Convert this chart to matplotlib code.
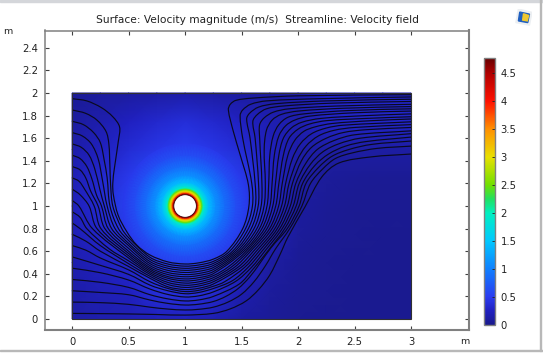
#!/usr/bin/env python3

import numpy as np
import matplotlib
matplotlib.use('Agg')
import matplotlib.pyplot as plt

from matplotlib.colors import LinearSegmentedColormap
from matplotlib.patches import Circle, PathPatch, Rectangle, Polygon
from matplotlib.path import Path

# speed (m/s) on a coarse grid, bottom row first
grid_x = [0, 0.25, 0.5, 0.75, 1, 1.25, 1.5, 1.75, 2, 2.25, 2.5, 2.75, 3]
grid_y = [0, 0.25, 0.5, 0.75, 1, 1.25, 1.5, 1.75, 2]
speed_00 = [.12, .16, .18, .22, .25, .18, .10, .06, .03, .02, .02, .02, .02]
speed_25 = [.14, .20, .25, .40, .42, .35, .18, .08, .04, .03, .02, .02, .02]
speed_50 = [.16, .24, .32, .50, .55, .48, .30, .12, .05, .03, .02, .02, .02]
speed_75 = [.20, .30, .48, .70, .80, .70, .48, .22, .07, .04, .03, .02, .02]
speed_100 = [.22, .35, .55, .80, .90, .80, .55, .30, .10, .05, .03, .03, .03]
speed_125 = [.20, .32, .48, .70, .80, .70, .48, .28, .12, .07, .05, .04, .04]
speed_150 = [.14, .24, .36, .45, .52, .45, .36, .24, .14, .12, .12, .12, .12]
speed_175 = [.10, .16, .26, .32, .38, .32, .26, .18, .16, .28, .30, .30, .30]
speed_200 = [.05, .08, .10, .12, .14, .12, .10, .10, .16, .28, .30, .30, .30]

# speed against distance from the cylinder centre
ring_radius = [.1, .105, .11, .12, .13, .145, .16, .18, .21, .27, .35, .45, .55]
ring_speed = [4.77, 4.5, 4.2, 3.5, 3.0, 2.5, 2.0, 1.7, 1.4, 1.1, .85, .62, .48]

# streamlines, top left start first
line_00 = [(0, 1.95), (.13, 1.93), (.26, 1.87), (.36, 1.79), (.42, 1.70), (.41, 1.58), (.375, 1.34), (.36, 1.2),
           (.365, 1.1), (.407, .92), (.484, .773), (.572, .655), (.69, .566), (.85, .505), (1, .487), (1.12, .497),
           (1.25, .53), (1.37, .6), (1.51, .8), (1.565, 1.0), (1.56, 1.19), (1.487, 1.454), (1.427, 1.66),
           (1.383, 1.85), (1.40, 1.90), (1.45, 1.935), (1.6, 1.955), (2, 1.975), (3, 1.985)]
line_01 = [(0, 1.85), (.12, 1.82), (.22, 1.76), (.30, 1.66), (.325, 1.55), (.335, 1.34), (.34, 1.2), (.36, 1.0),
           (.44, .8), (.5, .72), (.69, .546), (.85, .486), (1, .468), (1.12, .478), (1.25, .51), (1.395, .6),
           (1.535, .8), (1.596, 1.0), (1.59, 1.2), (1.51, 1.6), (1.487, 1.8), (1.51, 1.85), (1.58, 1.9), (1.72, 1.93),
           (2.2, 1.95), (3, 1.965)]
line_02 = [(0, 1.75), (.1, 1.72), (.19, 1.65), (.25, 1.56), (.285, 1.4), (.31, 1.25), (.335, 1.0), (.41, .8),
           (.5, .695), (.69, .527), (.85, .467), (1, .449), (1.12, .459), (1.25, .492), (1.42, .6), (1.56, .8),
           (1.622, 1.0), (1.62, 1.2), (1.575, 1.6), (1.545, 1.77), (1.57, 1.82), (1.65, 1.875), (1.8, 1.905),
           (2.25, 1.93), (3, 1.945)]
line_03 = [(0, 1.65), (.09, 1.62), (.17, 1.55), (.23, 1.42), (.27, 1.22), (.31, 1.0), (.38, .8), (.5, .67),
           (.69, .508), (.85, .449), (1, .431), (1.12, .441), (1.25, .474), (1.44, .6), (1.585, .8), (1.647, 1.0),
           (1.65, 1.2), (1.62, 1.6), (1.60, 1.75), (1.64, 1.81), (1.72, 1.86), (1.87, 1.885), (2.3, 1.91), (3, 1.925)]
line_04 = [(0, 1.55), (.08, 1.52), (.15, 1.45), (.20, 1.33), (.245, 1.15), (.285, 1.0), (.35, .8), (.5, .65),
           (.69, .49), (.85, .43), (1, .412), (1.12, .422), (1.25, .456), (1.46, .6), (1.61, .8), (1.673, 1.0),
           (1.68, 1.2), (1.66, 1.6), (1.66, 1.72), (1.70, 1.78), (1.78, 1.83), (1.92, 1.86), (2.35, 1.885), (3, 1.90)]
line_05 = [(0, 1.45), (.07, 1.42), (.13, 1.35), (.175, 1.24), (.215, 1.1), (.26, 1.0), (.32, .8), (.5, .625),
           (.69, .472), (.85, .411), (1, .393), (1.12, .403), (1.25, .438), (1.48, .6), (1.635, .8), (1.699, 1.0),
           (1.71, 1.2), (1.70, 1.5), (1.72, 1.67), (1.77, 1.76), (1.85, 1.81), (2.0, 1.84), (2.4, 1.865), (3, 1.88)]
line_06 = [(0, 1.35), (.07, 1.32), (.12, 1.25), (.165, 1.13), (.23, 1.0), (.29, .8), (.5, .60), (.69, .455),
           (.85, .393), (1, .374), (1.12, .385), (1.25, .42), (1.50, .6), (1.658, .8), (1.725, 1.0), (1.74, 1.2),
           (1.75, 1.45), (1.78, 1.62), (1.83, 1.72), (1.91, 1.785), (2.05, 1.815), (2.45, 1.845), (3, 1.86)]
line_07 = [(0, 1.25), (.06, 1.22), (.11, 1.15), (.195, 1.0), (.255, .8), (.5, .58), (.69, .44), (.85, .375),
           (1, .355), (1.12, .366), (1.25, .402), (1.52, .6), (1.68, .8), (1.751, 1.0), (1.77, 1.2), (1.79, 1.45),
           (1.83, 1.62), (1.89, 1.71), (1.97, 1.76), (2.1, 1.795), (2.5, 1.825), (3, 1.84)]
line_08 = [(0, 1.15), (.07, 1.10), (.15, 1.0), (.22, .8), (.5, .56), (.69, .425), (.85, .36), (1, .337), (1.12, .348),
           (1.25, .384), (1.38, .46), (1.54, .6), (1.703, .8), (1.776, 1.0), (1.80, 1.2), (1.83, 1.45), (1.87, 1.6),
           (1.94, 1.69), (2.03, 1.74), (2.2, 1.775), (2.6, 1.80), (3, 1.815)]
line_09 = [(0, 1.05), (.06, 1.0), (.18, .8), (.5, .54), (.69, .41), (.85, .342), (1, .318), (1.12, .329),
           (1.25, .366), (1.41, .46), (1.56, .6), (1.725, .8), (1.802, 1.0), (1.83, 1.2), (1.87, 1.45), (1.92, 1.6),
           (2.0, 1.68), (2.1, 1.725), (2.25, 1.755), (2.6, 1.775), (3, 1.79)]
line_10 = [(0, .95), (.07, .90), (.13, .8), (.33, .62), (.5, .515), (.69, .395), (.85, .323), (1, .299), (1.12, .31),
           (1.25, .348), (1.44, .46), (1.58, .6), (1.748, .8), (1.828, 1.0), (1.86, 1.2), (1.91, 1.45), (1.97, 1.58),
           (2.05, 1.66), (2.15, 1.70), (2.3, 1.73), (2.65, 1.755), (3, 1.77)]
line_11 = [(0, .85), (.07, .8), (.25, .65), (.5, .49), (.69, .378), (.85, .305), (1, .28), (1.12, .292), (1.25, .33),
           (1.47, .46), (1.605, .6), (1.77, .8), (1.854, 1.0), (1.89, 1.2), (1.95, 1.42), (2.02, 1.55), (2.12, 1.64),
           (2.25, 1.69), (2.4, 1.715), (3, 1.745)]
line_12 = [(0, .75), (.12, .69), (.25, .60), (.5, .465), (.69, .36), (.85, .285), (1, .261), (1.12, .272), (1.25, .31),
           (1.50, .46), (1.63, .6), (1.794, .8), (1.88, 1.0), (1.92, 1.2), (1.99, 1.4), (2.07, 1.53), (2.18, 1.62),
           (2.32, 1.67), (2.5, 1.695), (3, 1.72)]
line_13 = [(0, .65), (.12, .61), (.25, .54), (.5, .435), (.69, .33), (.85, .27), (1, .243), (1.12, .254), (1.25, .29),
           (1.35, .33), (1.53, .46), (1.655, .6), (1.816, .8), (1.905, 1.0), (1.95, 1.2), (2.03, 1.4), (2.12, 1.52),
           (2.25, 1.60), (2.4, 1.65), (2.6, 1.675), (3, 1.695)]
line_14 = [(0, .55), (.25, .475), (.5, .395), (.69, .30), (.85, .25), (1, .224), (1.12, .235), (1.25, .27), (1.42, .34),
           (1.56, .46), (1.68, .6), (1.838, .8), (1.931, 1.0), (1.98, 1.2), (2.07, 1.38), (2.17, 1.50), (2.32, 1.58),
           (2.5, 1.63), (3, 1.665)]
line_15 = [(0, .45), (.25, .41), (.5, .345), (.69, .265), (.85, .217), (1, .195), (1.12, .205), (1.25, .24), (1.45, .335),
           (1.59, .46), (1.705, .6), (1.86, .8), (1.957, 1.0), (2.01, 1.2), (2.11, 1.37), (2.22, 1.48), (2.36, 1.55),
           (2.55, 1.60), (3, 1.64)]
line_16 = [(0, .35), (.25, .325), (.5, .28), (.69, .215), (.85, .178), (1, .16), (1.12, .169), (1.25, .20), (1.48, .31),
           (1.60, .44), (1.73, .6), (1.882, .8), (1.983, 1.0), (2.04, 1.2), (2.15, 1.36), (2.27, 1.46), (2.42, 1.53),
           (2.6, 1.57), (3, 1.61)]
line_17 = [(0, .25), (.25, .235), (.5, .215), (.69, .168), (.85, .138), (1, .124), (1.12, .131), (1.25, .155),
           (1.36, .2), (1.47, .27), (1.57, .37), (1.66, .49), (1.76, .63), (1.904, .8), (2.009, 1.0), (2.07, 1.2),
           (2.18, 1.34), (2.3, 1.44), (2.45, 1.50), (2.65, 1.545), (3, 1.575)]
line_18 = [(0, .15), (.25, .145), (.5, .13), (.69, .105), (.85, .088), (1, .08), (1.12, .086), (1.25, .105), (1.38, .15),
           (1.50, .22), (1.61, .33), (1.71, .47), (1.80, .62), (1.926, .8), (2.034, 1.0), (2.11, 1.2), (2.22, 1.33),
           (2.33, 1.42), (2.48, 1.47), (2.7, 1.51), (3, 1.53)]
line_19 = [(0, .05), (.25, .048), (.5, .045), (.75, .04), (1, .035), (1.25, .05), (1.40, .09), (1.54, .16), (1.65, .26),
           (1.75, .39), (1.84, .57), (1.91, .725), (2.06, .99), (2.21, 1.257), (2.36, 1.38), (2.65, 1.435), (3, 1.46)]

x_ticks = [0, 0.5, 1, 1.5, 2, 2.5, 3]
x_tick_labels = ['0', '0.5', '1', '1.5', '2', '2.5', '3']
y_ticks = [0, 0.2, 0.4, 0.6, 0.8, 1, 1.2, 1.4, 1.6, 1.8, 2, 2.2, 2.4]
y_tick_labels = ['0', '0.2', '0.4', '0.6', '0.8', '1', '1.2', '1.4', '1.6', '1.8', '2', '2.2', '2.4']
bar_ticks = [0, 0.5, 1, 1.5, 2, 2.5, 3, 3.5, 4, 4.5]
bar_tick_labels = ['0', '0.5', '1', '1.5', '2', '2.5', '3', '3.5', '4', '4.5']

speed_max = 4.77
# colour stops along the bar, speed and colour as read
stop_speed = [0, 0.25, 0.5, 1, 1.5, 2, 2.25, 2.5, 3, 3.5, 4, 4.5, 4.77]
stop_color = ['#1a1a8c', '#2020c0', '#2a3cf0', '#0f80ff', '#00c8ff', '#00f0c0', '#20e060', '#70e000',
              '#e8e000', '#ff9000', '#ff1000', '#b00000', '#660000']


def smooth_path(points):
    '''bezier pieces passing through the read points'''
    pts = np.array(points, dtype=float)
    gaps = np.hypot(*np.diff(pts, axis=0).T)
    tangents = np.zeros_like(pts)
    tangents[0] = (pts[1] - pts[0]) / gaps[0]
    tangents[-1] = (pts[-1] - pts[-2]) / gaps[-1]
    for i in range(1, len(pts) - 1):
        tangents[i] = (pts[i + 1] - pts[i - 1]) / (gaps[i - 1] + gaps[i])

    verts = [pts[0]]
    codes = [Path.MOVETO]
    for i, gap in enumerate(gaps):
        verts += [pts[i] + tangents[i] * gap / 3, pts[i + 1] - tangents[i + 1] * gap / 3, pts[i + 1]]
        codes += [Path.CURVE4] * 3
    return Path(verts, codes)


W, H = 543, 354
fig = plt.figure(figsize=(W / 100, H / 100), dpi=100)
plt.rcParams['font.family'] = 'DejaVu Sans'

text_color = '#222222'
frame_color = '#808080'


def fig_box(left, top, right, bottom):
    # pixel box measured from the top left corner
    return [left / W, 1 - bottom / H, (right - left) / W, (bottom - top) / H]


# the window borders of the screenshot
fig.add_artist(Rectangle((0, H - 2), W, 2, transform=None, color='#d4d6da'))
fig.add_artist(Rectangle((0, 3), W, 1, transform=None, color='#b8b8b8'))
fig.add_artist(Rectangle((540, 3), 1, H, transform=None, color='#b8b8b8'))

ax = fig.add_axes(fig_box(45, 30.5, 469, 330))

colors = [(s / speed_max, c) for s, c in zip(stop_speed, stop_color)]
cmap = LinearSegmentedColormap.from_list('comsol_rainbow', colors, N=512)

speed = np.array([speed_00, speed_25, speed_50, speed_75, speed_100, speed_125, speed_150, speed_175, speed_200])
mesh = ax.pcolormesh(grid_x, grid_y, speed, cmap=cmap, vmin=0, vmax=speed_max, shading='gouraud', zorder=1)

theta = np.linspace(0, 2 * np.pi, 121)
rr, tt = np.meshgrid(ring_radius, theta)
ring = np.tile(ring_speed, (len(theta), 1))
ax.pcolormesh(1 + rr * np.cos(tt), 1 + rr * np.sin(tt), ring, cmap=cmap, vmin=0, vmax=speed_max,
              shading='gouraud', zorder=2)

ax.add_patch(Circle((1, 1), 0.1, facecolor='white', edgecolor='#400000', linewidth=0.6, zorder=4))

lines = [line_00, line_01, line_02, line_03, line_04, line_05, line_06, line_07, line_08, line_09,
         line_10, line_11, line_12, line_13, line_14, line_15, line_16, line_17, line_18, line_19]
for points in lines:
    ax.add_patch(PathPatch(smooth_path(points), facecolor='none', edgecolor='#0a0a20', linewidth=0.85, zorder=3))

ax.add_patch(Rectangle((0, 0), 3, 2, facecolor='none', edgecolor='#303030', linewidth=0.8, zorder=5))

ax.set_xlim(-0.24, 3.513)
ax.set_ylim(-0.097, 2.553)
ax.set_xticks(x_ticks, x_tick_labels)
ax.set_yticks(y_ticks, y_tick_labels)
ax.tick_params(axis='both', which='major', direction='in', length=3, width=0.8, color='#404040',
               labelsize=7.2, labelcolor=text_color, top=True, right=True, pad=5)
for name, spine in ax.spines.items():
    spine.set_color(frame_color)
    spine.set_linewidth(1.5 if name in ('bottom', 'right') else 1.1)

fig.text(257 / W, 1 - 20 / H, 'Surface: Velocity magnitude (m/s)  Streamline: Velocity field',
         ha='center', va='center', fontsize=7.7, color=text_color)
fig.text(8 / W, 1 - 32 / H, 'm', ha='center', va='center', fontsize=6.8, color=text_color)
fig.text(465 / W, 1 - 342 / H, 'm', ha='center', va='center', fontsize=6.8, color=text_color)

# colour bar
cax = fig.add_axes(fig_box(484, 58, 495, 325))
bar = fig.colorbar(mesh, cax=cax)
bar.set_ticks(bar_ticks, labels=bar_tick_labels)
cax.tick_params(axis='y', direction='in', length=2, width=0.6, color='#202020', labelsize=7.2,
                labelcolor=text_color, pad=4)
bar.outline.set_edgecolor(frame_color)
bar.outline.set_linewidth(1.0)

# small toolbar icon in the corner
icon = fig.add_axes(fig_box(515, 9, 532, 26))
icon.set_axis_off()
icon.set_xlim(0, 1)
icon.set_ylim(0, 1)
icon.add_patch(Polygon([(0.05, 0.2), (0.85, 0.05), (1, 0.8), (0.2, 1)], color='#eceff2'))
icon.add_patch(Polygon([(0.2, 0.3), (0.75, 0.2), (0.85, 0.7), (0.28, 0.82)], color='#1f5fc0'))
icon.add_patch(Polygon([(0.45, 0.35), (0.72, 0.3), (0.8, 0.62), (0.5, 0.72)], color='#f0c830'))

fig.savefig('out.png', dpi=100)
